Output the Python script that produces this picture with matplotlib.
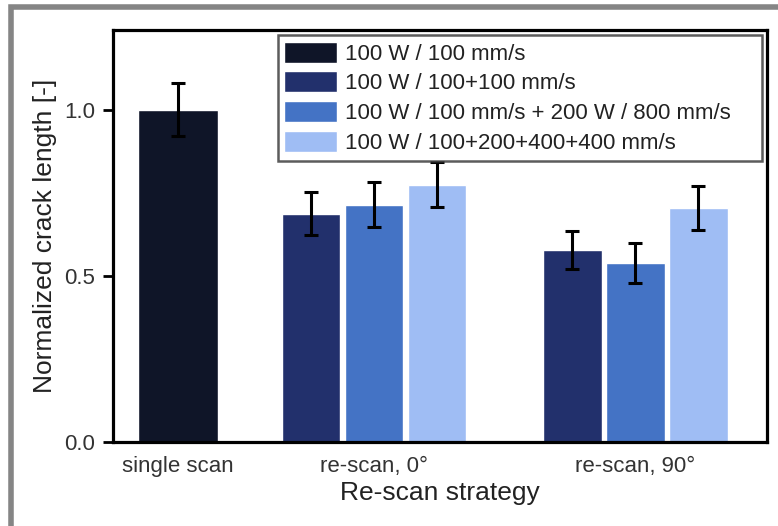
import numpy as np
import matplotlib.pyplot as plt
from matplotlib.patches import Rectangle

plt.rcParams['font.family'] = ['Liberation Sans', 'DejaVu Sans']

# data
groups = ['single scan', 're-scan, 0°', 're-scan, 90°']
series = ['100 W / 100 mm/s', '100 W / 100+100 mm/s',
          '100 W / 100 mm/s + 200 W / 800 mm/s', '100 W / 100+200+400+400 mm/s']
single_val = [1.0]
single_err = [0.08]
rescan0_val = [0.687, 0.714, 0.774]
rescan0_err = [0.065, 0.068, 0.068]
rescan90_val = [0.578, 0.539, 0.705]
rescan90_err = [0.058, 0.060, 0.066]

colors = ['#0f1528', '#22306c', '#4473c5', '#9fbdf4']

fig = plt.figure(figsize=(7.78, 5.26), dpi=100)
ax = fig.add_axes([0.1452, 0.1597, 0.8407, 0.7833])

# gray outer frame
fig.patches.append(Rectangle((10.5 / 778, -0.05), 1.2, (526 - 6.5) / 526 + 0.05,
                             transform=fig.transFigure, fill=False,
                             edgecolor='#858585', linewidth=4, zorder=0))

pitch = 1.0
w = 0.93
centers = [1.03, 4.14, 8.29]
err_kw = dict(ecolor='black', elinewidth=2.2, capsize=5, capthick=2.2)

ax.bar(centers[0], single_val[0], width=1.27, color=colors[0], edgecolor='white',
       linewidth=1, yerr=single_err[0], error_kw=err_kw, label=series[0])
for c, vals, errs in [(centers[1], rescan0_val, rescan0_err),
                      (centers[2], rescan90_val, rescan90_err)]:
    for i, (v, e) in enumerate(zip(vals, errs)):
        ax.bar(c + (i - 1) * pitch, v, width=w, color=colors[i + 1], edgecolor='white',
               linewidth=1, yerr=e, error_kw=err_kw,
               label=series[i + 1] if c == centers[1] else None)

ax.set_xlim(0, 10.38)
ax.set_ylim(0, 1.24)
ax.set_yticks([0.0, 0.5, 1.0])
ax.set_yticklabels(['0.0', '0.5', '1.0'])
ax.set_xticks(centers)
ax.set_xticklabels(groups)
ax.tick_params(axis='x', length=0, labelsize=16, pad=10, colors='#333333')
ax.tick_params(axis='y', direction='out', length=7, width=2, labelsize=16, pad=6,
               colors='black', labelcolor='#333333')
for s in ax.spines.values():
    s.set_linewidth(2.3)

ax.set_ylabel('Normalized crack length [-]', fontsize=19, color='#222222', labelpad=5)
ax.set_xlabel('Re-scan strategy', fontsize=19, color='#222222', labelpad=3)

leg = ax.legend(loc='upper left', bbox_to_anchor=(0.252, 0.684, 0.740, 0.304),
                mode='expand', fontsize=16,
                frameon=True, fancybox=False, edgecolor='#333333',
                handlelength=2.35, handleheight=1.08, handletextpad=0.36,
                labelspacing=0.3, borderpad=0.3, borderaxespad=0)
leg.get_frame().set_linewidth(1.8)
for t in leg.get_texts():
    t.set_color('#222222')

fig.savefig('out.png', dpi=100)
